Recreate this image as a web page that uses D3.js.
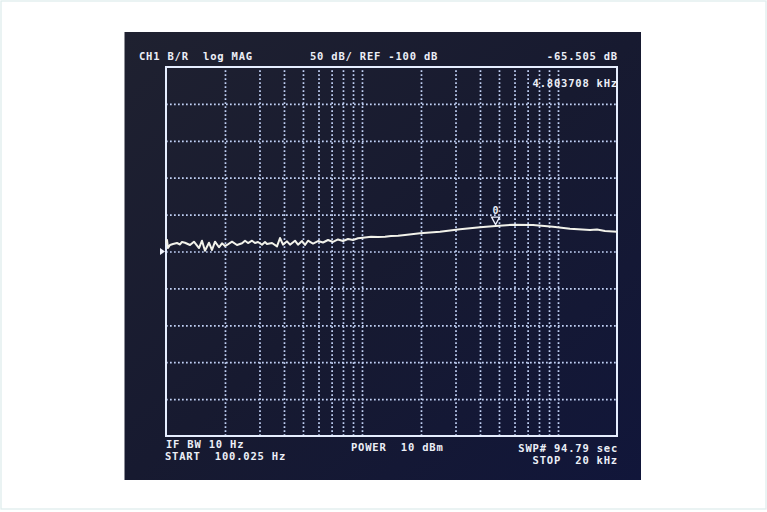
<!DOCTYPE html>
<html><head><meta charset="utf-8">
<script src="https://cdn.jsdelivr.net/npm/d3@7"></script>
<style>html,body{margin:0;padding:0;background:#fff;} svg{display:block;} text{white-space:pre;}</style>
</head><body><svg id="c" width="767" height="512"></svg>
<script>
// ---- data ----
const freqHz = [
  100.025, 101.2, 102.4, 104.8, 108.6, 113.8, 117.9, 120.7, 125.0, 132.6,
  138.9, 147.4, 152.7, 158.1, 165.7, 171.7, 177.9, 186.4, 193.1, 200.0,
  204.8, 217.2, 230.3, 244.4, 253.1, 262.2, 274.8, 284.6, 294.8, 308.9,
  320.1, 327.6, 347.5, 368.5, 381.7, 395.4, 414.4, 429.3, 455.2, 471.6,
  494.3, 512.0, 530.4, 562.4, 596.6, 632.6, 671.0, 711.4, 754.6, 800.2,
  848.6, 899.9, 954.3, 1036, 1112, 1207, 1310, 1406, 1527, 1657,
  1978, 2500, 3163, 4001, 4803.708, 5895, 7458, 9432, 11513, 14570,
  15811, 17374, 20000
];
const magDb = [
  -88.5, -84.4, -95.3, -91.2, -89.8, -88.5, -90.5, -87.1, -88.1, -91.2,
  -86.7, -95.3, -85.4, -98.9, -88.1, -98.0, -86.7, -94.3, -88.9, -92.5,
  -91.2, -86.7, -91.2, -88.9, -85.4, -88.5, -85.4, -88.5, -87.1, -90.8,
  -87.1, -89.8, -88.5, -93.0, -81.7, -90.8, -86.2, -90.8, -85.4, -90.8,
  -85.8, -91.2, -85.4, -89.2, -85.8, -87.8, -84.4, -87.1, -83.7, -85.8,
  -83.1, -84.4, -82.1, -81.0, -79.9, -80.4, -79.9, -79.0, -78.6, -77.6,
  -75.3, -73.2, -69.9, -67.2, -65.505, -63.7, -64.1, -66.4, -69.1, -70.9,
  -70.2, -72.2, -73.2
];
const gridFreqHz = [200, 300, 400, 500, 600, 700, 800, 900, 1000,
                    2000, 3000, 4000, 5000, 6000, 7000, 8000, 9000, 10000];
const gridDb = [-300, -250, -200, -150, -100, -50, 0, 50, 100];
const freqDomain = [100.025, 20000];
const dbDomain = [-350, 150];
const refDb = -100;
const markerHz = 4803.708;
const markerDb = -65.505;
const markerLabel = "0";
const topTexts = ["CH1 B/R  log MAG", "50 dB/ REF -100 dB", "-65.505 dB", "4.803708 kHz"];
const bottomTexts = ["IF BW 10 Hz", "START  100.025 Hz", "POWER  10 dBm", "SWP# 94.79 sec", "STOP  20 kHz"];

// ---- drawing ----
const svg = d3.select("#c");
const x = d3.scaleLog().domain(freqDomain).range([166, 617]);
const y = d3.scaleLinear().domain(dbDomain).range([436, 67]);

// page border
svg.append("rect").attr("x", 1).attr("y", 1).attr("width", 765).attr("height", 508)
  .attr("fill", "#fff").attr("stroke", "#dcecec").attr("stroke-width", 1.2);

// screen
const defs = svg.append("defs");
const grad = defs.append("linearGradient").attr("id", "scr")
  .attr("x1", "0").attr("y1", "0").attr("x2", "1").attr("y2", "1");
grad.append("stop").attr("offset", "0").attr("stop-color", "#1f2130");
grad.append("stop").attr("offset", "0.5").attr("stop-color", "#171a30");
grad.append("stop").attr("offset", "1").attr("stop-color", "#11163a");
svg.append("rect").attr("x", 124.5).attr("y", 32).attr("width", 516.5).attr("height", 448)
  .attr("fill", "url(#scr)");

const gridColor = "#c2d2f6";
// vertical grid
svg.append("g").attr("transform", `translate(0,${y.range()[0]})`)
  .call(d3.axisBottom(x).tickValues(gridFreqHz).tickSize(-(y.range()[0] - y.range()[1])).tickFormat(""))
  .call(g => g.select(".domain").remove())
  .call(g => g.selectAll("line").attr("stroke", gridColor).attr("stroke-width", 1.7)
    .attr("stroke-dasharray", "1.7,2.3"));
// horizontal grid
svg.append("g").attr("transform", `translate(${x.range()[0]},0)`)
  .call(d3.axisLeft(y).tickValues(gridDb).tickSize(-(x.range()[1] - x.range()[0])).tickFormat(""))
  .call(g => g.select(".domain").remove())
  .call(g => g.selectAll("line").attr("stroke", gridColor).attr("stroke-width", 1.7)
    .attr("stroke-dasharray", "1.7,2.3"));

// frame
svg.append("rect").attr("x", x.range()[0]).attr("y", y.range()[1])
  .attr("width", x.range()[1] - x.range()[0]).attr("height", y.range()[0] - y.range()[1])
  .attr("fill", "none").attr("stroke", "#e6eeff").attr("stroke-width", 2);

// trace
const pts = freqHz.map((f, i) => [f, magDb[i]]);
svg.append("path").datum(pts)
  .attr("d", d3.line().x(d => x(d[0])).y(d => y(d[1])))
  .attr("fill", "none").attr("stroke", "#f2f2ea").attr("stroke-width", 2)
  .attr("stroke-linejoin", "round");

// reference marker
const ry = y(refDb), rx = x.range()[0];
svg.append("path")
  .attr("d", `M${rx - 6},${ry - 3.5} L${rx - 1},${ry} L${rx - 6},${ry + 3.5} Z`)
  .attr("fill", "#f0f2fa");

// data marker
const mx = x(markerHz), my = y(markerDb);
svg.append("path")
  .attr("d", `M${mx - 4},${my - 9} L${mx + 4},${my - 9} L${mx},${my - 1.5} Z`)
  .attr("fill", "none").attr("stroke", "#eef2ff").attr("stroke-width", 1.3);
svg.append("text").attr("x", mx).attr("y", my - 12).attr("text-anchor", "middle")
  .attr("font-family", "DejaVu Sans Mono").attr("font-weight", "bold").attr("font-size", 10)
  .attr("fill", "#e8ecf5").text(markerLabel);

// texts
const font = sel => sel.attr("font-family", "DejaVu Sans Mono").attr("font-weight", "bold")
  .attr("font-size", 10.5).attr("letter-spacing", 0.8).attr("fill", "#eceff7");
const tpos = [
  [139, 60, "start"], [310, 60, "start"], [618, 60, "end"], [618, 87, "end"]
];
topTexts.forEach((t, i) => {
  svg.append("text").attr("x", tpos[i][0]).attr("y", tpos[i][1])
    .attr("text-anchor", tpos[i][2]).call(font).text(t);
});
const bpos = [
  [166, 447.5, "start"], [165, 460, "start"], [351, 451, "start"], [618, 451.5, "end"], [618, 463.5, "end"]
];
bottomTexts.forEach((t, i) => {
  svg.append("text").attr("x", bpos[i][0]).attr("y", bpos[i][1])
    .attr("text-anchor", bpos[i][2]).call(font).text(t);
});
</script>
</body></html>
